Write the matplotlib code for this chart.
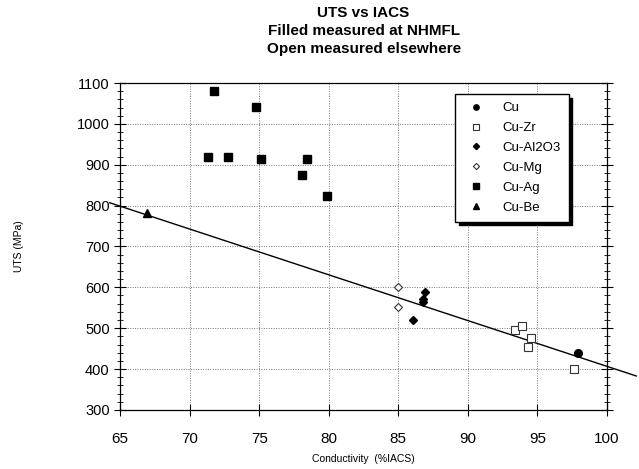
import numpy as np
import matplotlib
matplotlib.use("Agg")
import matplotlib.pyplot as plt
from matplotlib.ticker import MultipleLocator

plt.rcParams["font.family"] = ["Liberation Sans", "DejaVu Sans"]

# ── data ────────────────────────────────────────────────────
cu_x = [97.9]
cu_y = [440]

cuzr_x = [93.4, 93.9, 94.5, 94.3, 97.6]
cuzr_y = [496, 506, 475, 454, 400]

cual_x = [86.95, 86.8, 86.75, 86.05]
cual_y = [589, 571, 565, 519]

cumg_x = [85.0, 85.0]
cumg_y = [601, 553]

cuag_x = [71.75, 74.8, 71.3, 72.75, 75.15, 78.45, 78.05, 79.85]
cuag_y = [1081, 1042, 918, 920, 913, 914, 875, 823]

cube_x = [66.9]
cube_y = [783]

# fitted trend line (runs past the frame on both ends)
fit_x = [64.25, 102.1]
fit_y = [807, 383]

fig = plt.figure(figsize=(6.39, 4.69), dpi=100)
ax = fig.add_axes([0.188, 0.126, 0.762, 0.697])

ax.plot(fit_x, fit_y, color="black", linewidth=1.0, clip_on=False, zorder=2)

ms = 5.5
ax.plot(cu_x, cu_y, "o", color="black", ms=ms, ls="none", label="Cu", zorder=3)
ax.plot(cuzr_x, cuzr_y, "s", mfc="white", mec="#333333", mew=0.8, ms=ms + 0.5,
        ls="none", label="Cu-Zr", zorder=3)
ax.plot(cual_x, cual_y, "D", color="black", ms=ms - 1, ls="none",
        label="Cu-Al2O3", zorder=3)
ax.plot(cumg_x, cumg_y, "D", mfc="white", mec="#333333", mew=0.8, ms=ms - 1,
        ls="none", label="Cu-Mg", zorder=3)
ax.plot(cuag_x, cuag_y, "s", color="black", ms=ms + 0.5, ls="none",
        label="Cu-Ag", zorder=3)
ax.plot(cube_x, cube_y, "^", color="black", ms=ms, ls="none",
        label="Cu-Be", zorder=3)

ax.set_xlim(65, 100)
ax.set_ylim(300, 1100)
ax.xaxis.set_major_locator(MultipleLocator(5))
ax.yaxis.set_major_locator(MultipleLocator(100))
ax.yaxis.set_minor_locator(MultipleLocator(20))

ax.grid(True, which="major", linestyle=(0, (1, 1.5)), color="#777777",
        linewidth=0.7)
ax.tick_params(axis="x", which="major", direction="inout", length=8,
               width=0.8, pad=12, labelsize=11)
ax.tick_params(axis="y", which="major", direction="inout", length=8,
               width=0.8, labelsize=10.5, right=True)
ax.tick_params(axis="y", which="minor", direction="inout", length=4,
               width=0.6, right=True)
for sp in ax.spines.values():
    sp.set_linewidth(0.9)

ax.set_xlabel("Conductivity  (%IACS)", fontsize=7.5, labelpad=6)
ax.set_ylabel("UTS (MPa)", fontsize=7.5, labelpad=38)

fig.text(0.569, 0.988, "UTS vs IACS\nFilled measured at NHMFL\nOpen measured elsewhere",
         ha="center", va="top", fontsize=11, fontweight="bold", linespacing=1.38)

leg = ax.legend(loc="upper left", bbox_to_anchor=(0.688, 0.966), fontsize=9.5,
                markerscale=0.7, frameon=True, fancybox=False, edgecolor="black",
                handletextpad=1.0, labelspacing=0.58, borderpad=0.6,
                handlelength=2.0, borderaxespad=0,
                shadow={"color": "black", "alpha": 1.0, "ox": 2.5, "oy": -2.5})
leg.get_frame().set_linewidth(1.0)

fig.savefig("out.png", dpi=100, facecolor="white")
